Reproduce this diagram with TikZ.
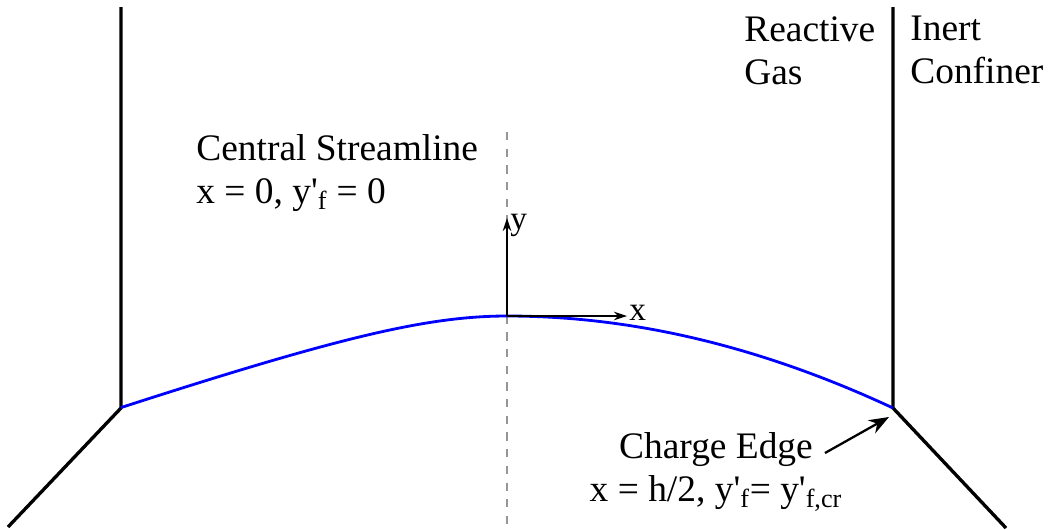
\documentclass[tikz,border=0pt]{standalone}
\usepackage{fontspec}
\setmainfont{Liberation Serif}
\usepackage{tikz}
\usetikzlibrary{arrows.meta,positioning,calc}
\definecolor{frontCol}{RGB}{0,0,255}
\definecolor{axisGray}{RGB}{150,150,150}
\tikzset{
  wall/.style={line width=1.9pt,black},
  front/.style={line width=1.6pt,frontCol},
  centre/.style={line width=1.5pt,axisGray,dash pattern=on 4.7pt off 4.8pt},
  axis/.style={-{Stealth[length=2.6mm,width=1.7mm]},line width=0.8pt},
  flow/.style={-{Stealth[length=4mm,width=3mm]},line width=1.3pt},
  lab/.style={font=\fontsize{21.3}{24.5}\selectfont,inner sep=0pt,align=left},
}
\newcommand{\yp}{y\textquotesingle}

\begin{document}
\begin{tikzpicture}[x=0.02cm,y=-0.02cm]
  \useasboundingbox (0,0) rectangle (1049,529);
  % walls of the charge
  \coordinate (lt) at (121,7);
  \coordinate (lc) at (121,408);
  \coordinate (lb) at (8,527);
  \coordinate (rt) at (893,7);
  \coordinate (rc) at (893,408);
  \coordinate (rb) at (1006,528);
  \draw[wall] (lt) -- (lc) -- (lb);
  \draw[wall] (rt) -- (rc) -- (rb);
  % centre line and front
  \coordinate (o) at (507,316);
  \draw[centre] (507,132) -- (507,529);
  \draw[front] plot[domain=-386:0,samples=80] ({507+\x},{316+52*(sqrt(1+(\x/150)^2)-1)})
                    .. controls (635.7,316) and (764.3,348) .. (rc);
  % local axes
  \coordinate (ytip) at (507,218);
  \coordinate (xtip) at (627,316);
  \draw[axis] (o) -- (ytip);
  \draw[axis] (o) -- (xtip);
  \node[lab,anchor=west,font=\fontsize{19}{22}\selectfont] (ylab) at (510,225) {y};
  \node[lab,anchor=west,font=\fontsize{19}{22}\selectfont] (xlab) at (629,313) {x};
  % labels
  \node[lab,anchor=north west] (cs) at (196,134)
    {Central Streamline\\x = 0, \yp\textsubscript{f} = 0};
  \node[lab,anchor=north west] (gas) at (744,16) {Reactive\\Gas};
  \node[lab,anchor=north west] (conf) at (910,16) {Inert\\Confiner};
  \node[lab,anchor=north,align=center] (ce) at (716,432)
    {Charge Edge\\x = h/2, \yp\textsubscript{f}= \yp\textsubscript{f,cr}};
  \coordinate (cetail) at (825,453);
  \coordinate (cehead) at (889,417);
  \draw[flow] (cetail) -- (cehead);
\end{tikzpicture}
\end{document}
